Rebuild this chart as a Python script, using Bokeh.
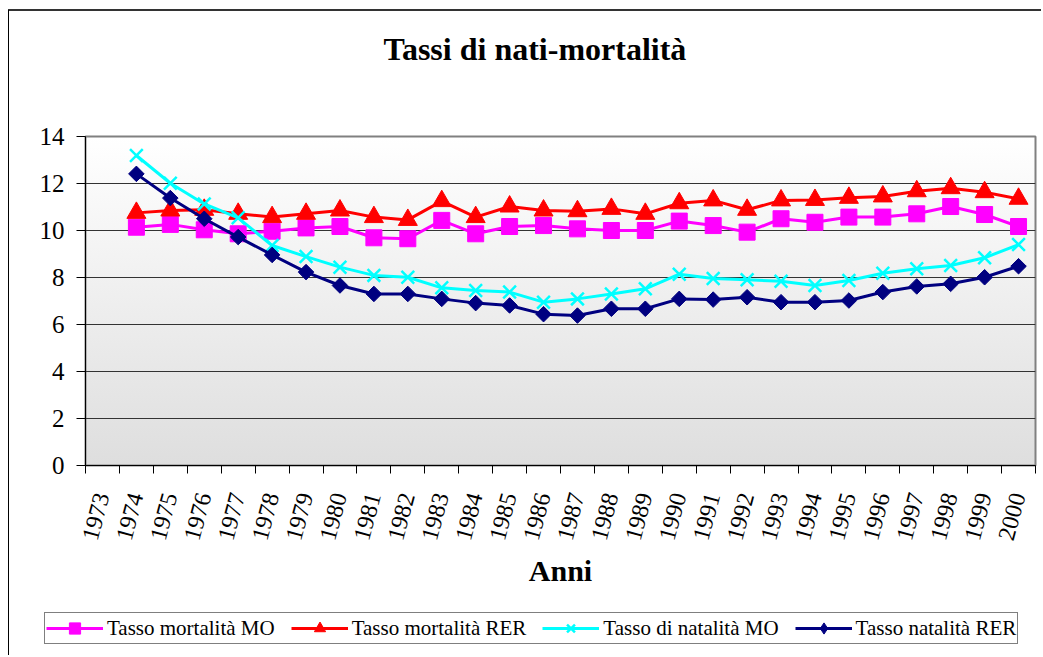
import math
from bokeh.plotting import figure
from bokeh.layouts import column
from bokeh.models import FixedTicker, Legend, LegendItem, Range1d
from bokeh.embed import file_html
from bokeh.resources import INLINE

# ---- data ----
label_years = list(range(1973, 2001))
years = list(range(1974, 2001))
y_ticks = [0, 2, 4, 6, 8, 10, 12, 14]

mort_mo = [10.14, 10.26, 10.03, 9.86, 9.97, 10.11, 10.17, 9.69, 9.65, 10.43,
           9.86, 10.17, 10.21, 10.07, 10.00, 10.00, 10.40, 10.21, 9.93, 10.50,
           10.35, 10.57, 10.57, 10.71, 11.02, 10.68, 10.17]
mort_rer = [10.75, 10.85, 10.88, 10.71, 10.57, 10.71, 10.85, 10.57, 10.45, 11.25,
            10.57, 11.02, 10.85, 10.82, 10.92, 10.71, 11.16, 11.28, 10.88, 11.28,
            11.30, 11.39, 11.45, 11.67, 11.80, 11.63, 11.35]
nat_mo = [13.19, 12.01, 11.13, 10.54, 9.36, 8.89, 8.44, 8.09, 8.01, 7.56,
          7.45, 7.38, 6.95, 7.09, 7.30, 7.52, 8.14, 7.96, 7.90, 7.84,
          7.66, 7.87, 8.18, 8.37, 8.51, 8.84, 9.40]
nat_rer = [12.41, 11.38, 10.50, 9.72, 8.96, 8.23, 7.66, 7.30, 7.30, 7.09,
           6.91, 6.81, 6.44, 6.38, 6.67, 6.67, 7.09, 7.06, 7.16, 6.95,
           6.95, 7.02, 7.38, 7.62, 7.73, 8.01, 8.48]

series_names = ["Tasso mortalità MO", "Tasso mortalità RER",
                "Tasso di natalità MO", "Tasso natalità RER"]
title_text = "Tassi di nati-mortalità"
x_title = "Anni"

FONT = "Liberation Serif"
W = 1041

# ---------- title strip ----------
tfig = figure(width=W, height=110, output_backend="svg", toolbar_location=None,
              x_axis_location=None, y_axis_location=None,
              x_range=Range1d(0, 1), y_range=Range1d(0, 1),
              min_border_left=85, min_border_right=6, min_border_top=0,
              min_border_bottom=0)
tfig.grid.visible = False
tfig.outline_line_color = None
tfig.background_fill_alpha = 0
tfig.border_fill_alpha = 0
tfig.styles = {
    "background": ("linear-gradient(#000000, #000000) 8px 10px / 1px 200px no-repeat, "
                   "linear-gradient(#333333, #333333) 8px 9px / 1100px 2px no-repeat, "
                   "#ffffff"),
}
tfig.title.text = title_text
tfig.title.text_font = FONT
tfig.title.text_font_size = "32px"
tfig.title.text_font_style = "bold"
tfig.title.text_color = "black"
tfig.title.align = "left"
tfig.title.offset = 298
tfig.title.standoff = 56

# ---------- main chart ----------
p = figure(width=W, height=500, output_backend="svg", toolbar_location=None,
           x_range=Range1d(1972.5, 2000.5), y_range=Range1d(0, 14),
           min_border_left=85, min_border_right=6, min_border_top=26,
           min_border_bottom=145)
p.title.visible = False
p.styles = {
    "background": ("linear-gradient(#000000, #000000) 8px 0px / 1px 600px no-repeat, "
                   "linear-gradient(#ffffff, #dedede) 85px 26px / 950px 329px no-repeat, "
                   "#ffffff"),
}
p.background_fill_alpha = 0
p.border_fill_alpha = 0
p.outline_line_color = "#808080"
p.outline_line_width = 2

boundaries = [y - 0.5 for y in label_years] + [label_years[-1] + 0.5]
xax = p.xaxis[0]
xax.ticker = FixedTicker(ticks=label_years, minor_ticks=boundaries)
xax.major_label_overrides = {y: str(y) for y in label_years}
xax.major_label_orientation = math.radians(75)
xax.major_tick_line_color = None
xax.major_tick_out = 8
xax.major_tick_in = 0
xax.minor_tick_out = 8
xax.minor_tick_in = 0
xax.minor_tick_line_color = "black"
xax.axis_line_color = "black"
xax.major_label_text_font = FONT
xax.major_label_text_font_size = "24px"
xax.major_label_text_color = "black"
xax.major_label_standoff = 20
xax.axis_label = x_title
xax.axis_label_text_font = FONT
xax.axis_label_text_font_size = "30px"
xax.axis_label_text_font_style = "bold"
xax.axis_label_text_color = "black"
xax.axis_label_standoff = 7

yax = p.yaxis[0]
yax.ticker = FixedTicker(ticks=y_ticks)
yax.major_tick_out = 9
yax.major_tick_in = 0
yax.minor_tick_line_color = None
yax.axis_line_color = "black"
yax.major_label_text_font = FONT
yax.major_label_text_font_size = "25px"
yax.major_label_text_color = "black"
yax.major_label_standoff = 12

p.xgrid.visible = False
p.ygrid.ticker = FixedTicker(ticks=y_ticks)
p.ygrid.grid_line_color = "#333333"
p.ygrid.grid_line_width = 1

styles = [
    dict(color="#FF00FF", marker="square", size=16, angle=0, legend_marker="square"),
    dict(color="#FF0000", marker="triangle", size=19, angle=0, legend_marker="triangle"),
    dict(color="#00FFFF", marker="x", size=18, angle=0, legend_marker="x"),
    dict(color="#000080", marker="square", size=11, angle=math.pi / 4, legend_marker="diamond"),
]
data = [mort_mo, mort_rer, nat_mo, nat_rer]

# ---------- legend strip ----------
pl = figure(width=W, height=45, output_backend="svg", toolbar_location=None,
            x_axis_location=None, y_axis_location=None,
            x_range=Range1d(0, 1), y_range=Range1d(0, 1),
            min_border_left=0, min_border_right=0, min_border_top=0,
            min_border_bottom=0)
pl.frame_align = False
pl.grid.visible = False
pl.outline_line_color = None
pl.background_fill_alpha = 0
pl.border_fill_alpha = 0
pl.title.visible = False
pl.styles = {
    "background": ("linear-gradient(#000000, #000000) 8px 0px / 1px 100px no-repeat, "
                   "#ffffff"),
}


def add_series(fig, xs, ys, st, marker, angle):
    lr = fig.line(xs, ys, line_color=st["color"], line_width=3)
    if marker == "x":
        sr = fig.scatter(xs, ys, marker="x", size=st["size"],
                         line_color=st["color"], line_width=2.5)
    else:
        sr = fig.scatter(xs, ys, marker=marker, size=st["size"],
                         angle=angle, fill_color=st["color"],
                         line_color=st["color"], line_width=1)
    return lr, sr


items = []
for name, vals, st in zip(series_names, data, styles):
    add_series(p, years, vals, st, st["marker"], st["angle"])
    # legend proxies: same series, outside the strip's visible range
    lr2, sr2 = add_series(pl, years, vals, st, st["legend_marker"], 0)
    items.append(LegendItem(label=name, renderers=[lr2, sr2]))

legend = Legend(items=items, orientation="horizontal", location=(44, 11))
legend.label_text_font = FONT
legend.label_text_font_size = "21px"
legend.label_text_color = "black"
legend.glyph_width = 57
legend.glyph_height = 28
legend.label_standoff = 4
legend.spacing = 16
legend.padding = 1
legend.margin = 0
legend.border_line_color = "black"
legend.border_line_width = 1
legend.background_fill_color = "white"
legend.background_fill_alpha = 1
pl.add_layout(legend)

layout = column(tfig, p, pl, spacing=0)
open("out.html", "w").write(file_html(layout, INLINE))
